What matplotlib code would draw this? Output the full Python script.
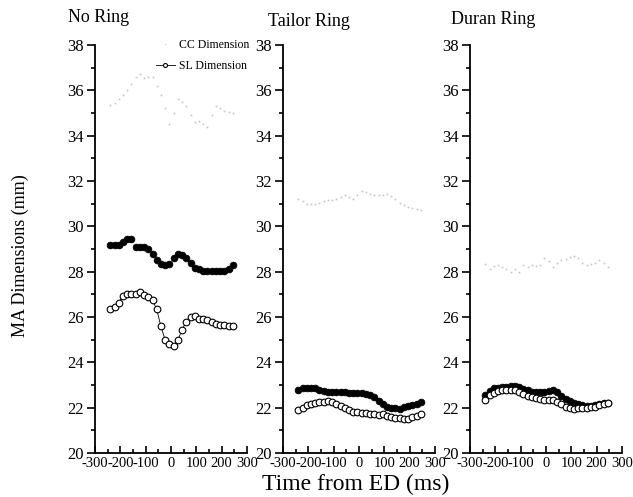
import matplotlib
matplotlib.use("Agg")
import matplotlib.pyplot as plt
from matplotlib.ticker import MultipleLocator

plt.rcParams['font.family'] = ['Liberation Serif', 'DejaVu Serif']

time_ms = [-240, -223, -207, -190, -173, -157, -140, -123, -107, -90,
           -73, -57, -40, -23, -7, 10, 27, 43, 60, 77,
           93, 110, 127, 143, 160, 177, 193, 210, 227, 243]

panel_titles = ["No Ring", "Tailor Ring", "Duran Ring"]

cc_no = [35.35, 35.45, 35.6, 35.8, 36.0, 36.3, 36.6, 36.7, 36.55, 36.6,
         36.6, 36.2, 35.8, 35.2, 34.5, 35.0, 35.6, 35.5, 35.3, 34.9,
         34.6, 34.65, 34.5, 34.4, 34.9, 35.3, 35.2, 35.1, 35.05, 35.0]
filled_no = [29.17, 29.17, 29.17, 29.3, 29.45, 29.45, 29.1, 29.1, 29.1, 29.0,
             28.8, 28.5, 28.35, 28.3, 28.35, 28.6, 28.8, 28.75, 28.6, 28.4,
             28.15, 28.1, 28.05, 28.05, 28.05, 28.05, 28.05, 28.05, 28.1, 28.3]
sl_no = [26.34, 26.44, 26.63, 26.92, 27.02, 27.02, 27.02, 27.1, 26.98, 26.88,
         26.73, 26.36, 25.6, 24.98, 24.83, 24.73, 24.98, 25.42, 25.8, 26.0,
         26.04, 25.93, 25.9, 25.85, 25.78, 25.7, 25.63, 25.66, 25.6, 25.6]

cc_tailor = [31.2, 31.1, 31.0, 31.0, 30.97, 31.05, 31.1, 31.15, 31.15, 31.2,
             31.3, 31.37, 31.3, 31.22, 31.4, 31.55, 31.5, 31.44, 31.4, 31.37,
             31.4, 31.44, 31.35, 31.2, 31.05, 30.95, 30.85, 30.82, 30.75, 30.7]
filled_tailor = [22.8, 22.85, 22.88, 22.88, 22.85, 22.78, 22.72, 22.7, 22.68, 22.68,
                 22.68, 22.67, 22.66, 22.65, 22.65, 22.65, 22.6, 22.55, 22.45, 22.3,
                 22.15, 22.05, 22.0, 21.97, 21.92, 22.02, 22.08, 22.12, 22.15, 22.25]
sl_tailor = [21.9, 22.0, 22.1, 22.17, 22.22, 22.25, 22.27, 22.28, 22.25, 22.18,
             22.08, 21.98, 21.88, 21.82, 21.79, 21.78, 21.76, 21.74, 21.71, 21.68,
             21.7, 21.65, 21.57, 21.53, 21.55, 21.5, 21.52, 21.58, 21.65, 21.72]

cc_duran = [28.35, 28.1, 28.25, 28.3, 28.2, 28.1, 28.0, 28.1, 28.0, 28.3,
            28.2, 28.3, 28.25, 28.3, 28.6, 28.45, 28.2, 28.4, 28.5, 28.55,
            28.65, 28.7, 28.6, 28.4, 28.3, 28.35, 28.4, 28.5, 28.4, 28.2]
filled_duran = [22.57, 22.75, 22.85, 22.88, 22.9, 22.93, 22.94, 22.94, 22.9, 22.82,
                22.76, 22.71, 22.68, 22.68, 22.7, 22.73, 22.8, 22.7, 22.5, 22.38,
                22.28, 22.2, 22.15, 22.11, 22.08, 22.07, 22.1, 22.15, 22.2, 22.22]
sl_duran = [22.36, 22.54, 22.66, 22.72, 22.76, 22.79, 22.8, 22.8, 22.7, 22.6,
            22.53, 22.47, 22.42, 22.37, 22.36, 22.35, 22.32, 22.25, 22.15, 22.03,
            21.98, 21.96, 21.97, 21.99, 21.99, 22.01, 22.05, 22.1, 22.16, 22.22]

cc_all = [cc_no, cc_tailor, cc_duran]
filled_all = [filled_no, filled_tailor, filled_duran]
sl_all = [sl_no, sl_tailor, sl_duran]

W, H = 633, 497
fig = plt.figure(figsize=(W / 100, H / 100), dpi=100)

lefts_px = [95, 283, 470]
width_px = 152
top_px, bottom_px = 45, 453
title_x_px = [99, 309, 493]
title_y_px = [18, 21, 19]

for k in range(3):
    ax = fig.add_axes([lefts_px[k] / W, 1 - bottom_px / H,
                       width_px / W, (bottom_px - top_px) / H])
    ax.plot(time_ms, cc_all[k], linestyle='none', marker='s', markersize=1.2,
            color='#c4c4c4', markeredgewidth=0, label='CC Dimension')
    ax.plot(time_ms, filled_all[k], linestyle='none', marker='o', markersize=4.8,
            color='black', markeredgewidth=0.6)
    ax.plot(time_ms, sl_all[k], linestyle='-', linewidth=0.6, color='black',
            marker='o', markersize=4.8, markerfacecolor='white',
            markeredgecolor='black', markeredgewidth=0.8, label='SL Dimension')
    ax.set_xlim(-300, 300)
    ax.set_ylim(20, 38)
    ax.xaxis.set_major_locator(MultipleLocator(100))
    ax.xaxis.set_minor_locator(MultipleLocator(50))
    ax.yaxis.set_major_locator(MultipleLocator(2))
    ax.yaxis.set_minor_locator(MultipleLocator(1))
    for side in ['top', 'right']:
        ax.spines[side].set_visible(False)
    for side in ['left', 'bottom']:
        ax.spines[side].set_linewidth(1.3)
    ax.tick_params(axis='y', which='major', direction='out', length=6, width=1.2,
                   labelsize=12, pad=2)
    ax.tick_params(axis='y', which='minor', direction='out', length=3, width=1.2)
    ax.tick_params(axis='x', which='major', direction='in', length=5, width=1.2,
                   labelsize=10.5, pad=3)
    ax.tick_params(axis='x', which='minor', direction='in', length=3, width=1.2)
    ax.set_xticks([-300, -200, -100, 0, 100, 200, 300])
    ax.set_xticklabels(['-300', '-200', '-100', '0', '100', '200', '300'])
    fig.text(title_x_px[k] / W, 1 - title_y_px[k] / H, panel_titles[k],
             ha='center', va='center', fontsize=13)
    if k == 0:
        ax.legend(loc='upper left', bbox_to_anchor=(0.36, 1.03),
                  frameon=False, fontsize=8.5, handlelength=1.6,
                  handletextpad=0.4, labelspacing=0.8, borderpad=0,
                  markerscale=0.6)

fig.text(356 / W, 1 - 484 / H, 'Time from ED (ms)', ha='center', va='center',
         fontsize=17)
fig.text(20 / W, 1 - 256 / H, 'MA Dimensions (mm)', ha='center', va='center',
         rotation=90, fontsize=13)

fig.savefig('out.png', dpi=100)
